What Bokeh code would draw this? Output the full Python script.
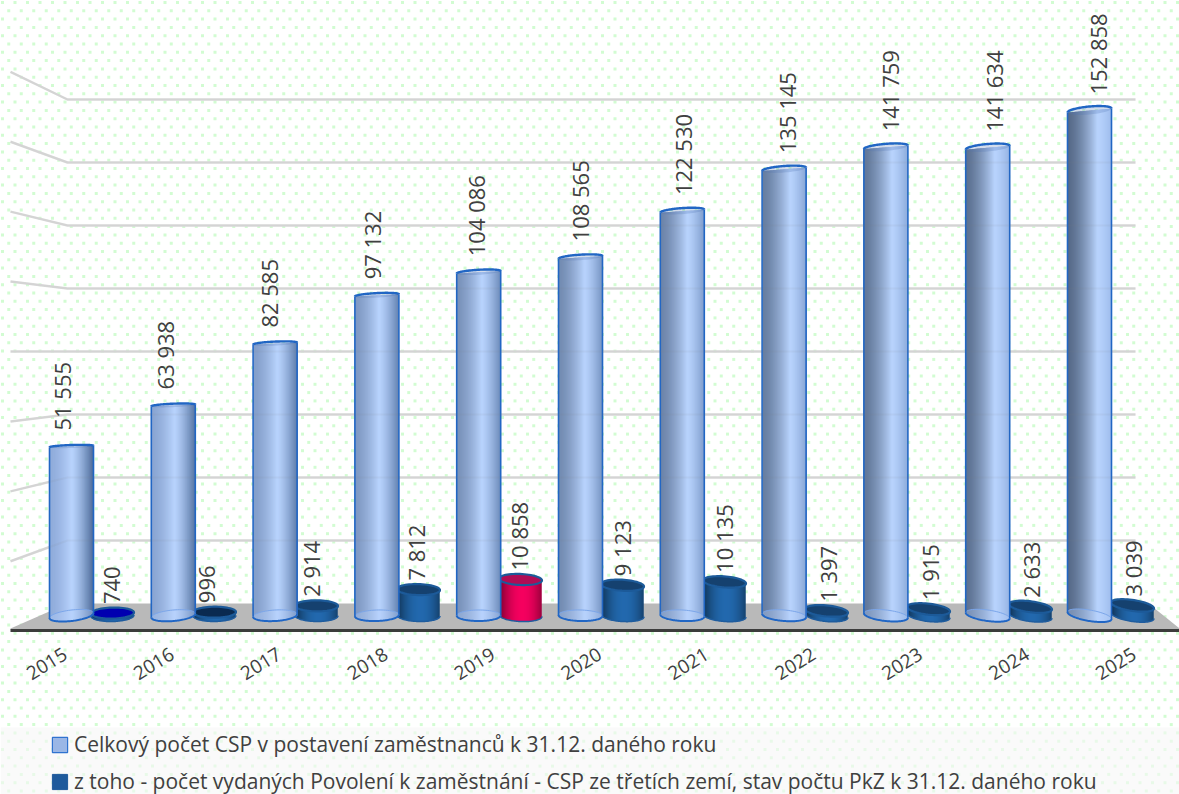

import numpy as np
from bokeh.plotting import figure
from bokeh.models import (ColumnDataSource, Range1d, LinearAxis, FixedTicker, Legend, LegendItem)
from bokeh.embed import file_html
from bokeh.resources import INLINE
from bokeh.core.properties import value

years = [2015, 2016, 2017, 2018, 2019, 2020, 2021, 2022, 2023, 2024, 2025]
total_csp = [51555, 63938, 82585, 97132, 104086, 108565, 122530, 135145, 141759, 141634, 152858]
permits = [740, 996, 2914, 7812, 10858, 9123, 10135, 1397, 1915, 2633, 3039]
grid_values = [20000, 40000, 60000, 80000, 100000, 120000, 140000, 160000]
series_names = ["Celkový počet CSP v postavení zaměstnanců k 31.12. daného roku",
                "z toho - počet vydaných Povolení k zaměstnání - CSP ze třetích zemí, stav počtu PkZ k 31.12. daného roku"]

W, H = 1179, 794
X0, DX = 71.0, 101.8          # page px of first column, px per year
Y0, SY = 617.0, 507.0 / 152858  # page px of zero, px per unit
def xd(px): return 2015 + (np.asarray(px, float) - X0) / DX
def yd(py): return (Y0 - np.asarray(py, float)) / SY

TXT = "#404040"
FONT = value("Open Sans")

p = figure(width=W, height=H, output_backend="svg", toolbar_location=None,
           x_range=Range1d(float(xd(0)), float(xd(W))), y_range=Range1d(float(yd(H)), float(yd(0))),
           x_axis_type=None, y_axis_type=None, min_border=0, outline_line_color=None,
           background_fill_color="#ffffff", border_fill_color="#ffffff")
p.grid.visible = False

# dotted backdrop
gx, gy = [], []
for r, yy in enumerate(np.arange(2, H, 8.3)):
    for xx in np.arange(2 + (r % 2) * 6.25, W, 12.5):
        gx.append(xx); gy.append(yy)
p.scatter(xd(gx), yd(gy), marker="square", size=3, fill_color="#d2fcd2", line_color=None)
p.quad(left=[float(xd(0))], right=[float(xd(W))], top=[float(yd(727))], bottom=[float(yd(H))],
       fill_color="#f6f6f6", fill_alpha=0.6, line_color=None)

# back wall gridlines with their side wall
def wall_y(v): return 603 - v * 63 / 20000
gl_x, gl_y = [], []
for v in grid_values:
    y = wall_y(v)
    gl_x.append(xd([10, 67, 1135]).tolist())
    gl_y.append(yd([351 + (y - 351) * 1.11, y, y]).tolist())
p.multi_line(gl_x, gl_y, line_color="#dcdcdc", line_width=2.5)

# floor
p.patch(xd([10, 67, 1148, 1179, 1179, 10]), yd([628, 603, 603, 628, 629, 629]), fill_color="#b9b9b9", line_color=None)
p.line(xd([10, 1179]), yd([630, 630]), line_color="#3c3c3c", line_width=3)

def lerp(a, b, t):
    return a + (b - a) * t
def hexc(c):
    return "#%02x%02x%02x" % tuple(int(round(max(0, min(255, v)))) for v in c)
def rgb(h):
    return np.array([int(h[i:i + 2], 16) for i in (1, 3, 5)], float)

def ell(cx, cy, a, b, tilt, t0=0.0, t1=2 * np.pi, n=60):
    """Page px ellipse; tilt = px that the right end is lower than the left end."""
    th = np.linspace(t0, t1, n)
    ex = cx + a * np.cos(th)
    ey = cy + b * np.sin(th) + tilt / 2 * np.cos(th)
    return ex, ey

def body(cx, a, top_py, bot_py, bbot, tilt_b, tilt_t, colors):
    """Overlapping strips, each one painted over the previous, so that no seams show."""
    n = len(colors)
    x0 = round(cx - a)
    L, R, T, B, C = [], [], [], [], []
    for k in range(n):
        um = (k + .5) / n * 2 - 1
        s = np.sqrt(max(0, 1 - um * um))
        L.append(float(xd(x0 + k))); R.append(float(xd(x0 + min(k + 2, n))))
        T.append(float(yd(top_py + tilt_t / 2 * um)))
        B.append(float(yd(bot_py + bbot * s + tilt_b / 2 * um)))
        C.append(colors[k])
    return L, R, T, B, C

# small cylinders
small_centres = [112 + 102 * i for i in range(len(years))]
small_top = ["#0000b0", "#0a2a50"] + ["#15416f"] * 2 + ["#b00c55"] + ["#15416f"] * 6
for i, v in enumerate(permits):
    cx, a = small_centres[i], 21.5
    top = Y0 - 2 - v * SY
    bot = Y0 - 2
    tilt = -1 + (i / 10) * 7
    pink = years[i] == 2019
    cols = []
    N = 43
    for k in range(N):
        t = (k + .5) / N
        f = 1 - 1.8 * (t - .55) ** 2
        base = rgb("#f5005f") if pink else rgb("#2269ae")
        cols.append(hexc(base * f))
    L, R, T, B, C = body(cx, a, top, bot, 6, tilt, tilt, cols)
    p.quad(left=L, right=R, top=T, bottom=B, fill_color=C, line_color=None)
    ex, ey = ell(cx, bot, a, 6, tilt, 0, np.pi)
    p.line(xd(ex), yd(ey), line_color="#1f5c9e", line_width=1.5)
    ex, ey = ell(cx, top, a, 5.5, tilt)
    p.patch(xd(ex), yd(ey), fill_color=small_top[i], line_color="#1c5a99", line_width=2.2)

# large cylinders
for i, v in enumerate(total_csp):
    w = i / 10
    cx, a = X0 + DX * i, 22.0
    top = Y0 - v * SY
    bot = Y0 - 2
    peak = lerp(0.5, 0.68, w)
    left_c = lerp(rgb("#8fabda"), rgb("#566a88"), w)
    right_c = lerp(rgb("#4c6a98"), rgb("#9ebcec"), w)
    lite = rgb("#b8d3fd")
    N = 44
    cols = []
    for k in range(N):
        t = (k + .5) / N
        if t < peak:
            q = t / peak
            c = left_c + (lite - left_c) * (q ** 1.5)
        else:
            q = (t - peak) / (1 - peak)
            c = lite + (right_c - lite) * (q ** 1.3)
        cols.append(hexc(c))
    tb = lerp(-5, 7, w)
    tt = lerp(-1.5, -4, w)
    bt = lerp(1.5, 4.0, w)
    L, R, T, B, C = body(cx, a, top, bot, 5.5, tb, tt, cols)
    p.quad(left=L, right=R, top=T, bottom=B, fill_color=C, line_color=None)
    # lighter foot of the column
    ex, ey = ell(cx, bot, a, 5.5, tb)
    p.patch(xd(ex), yd(ey), fill_color="#b7d0fb", fill_alpha=0.35, line_color="#7ba6ea", line_width=1)
    ex, ey = ell(cx, bot, a, 5.5, tb, 0, np.pi)
    p.line(xd(ex), yd(ey), line_color="#2166c4", line_width=2)
    # sides
    p.line(xd([cx - a, cx - a]), yd([top - tt / 2, bot - tb / 2]), line_color="#2166c4", line_width=1.6)
    p.line(xd([cx + a, cx + a]), yd([top + tt / 2, bot + tb / 2]), line_color="#2166c4", line_width=1.6)
    # lid
    ex, ey = ell(cx, top, a, bt, tt)
    p.patch(xd(ex), yd(ey), fill_color="#4f74b4", fill_alpha=0.25, line_color=None)
    ex, ey = ell(cx, top, a, bt, tt, np.pi, 2 * np.pi)
    p.line(xd(ex), yd(ey), line_color="#2166c4", line_width=2.4)

# gridlines faintly showing through the translucent columns
p.multi_line(gl_x, gl_y, line_color="#808080", line_width=2, line_alpha=0.08)

# value labels
def fmt(v):
    return f"{v:,}".replace(",", " ")
small_nudge = [0, -7, -5, -2, -1, 0, 0, 2, 2, 1, 1]
big = ColumnDataSource(dict(
    x=[float(xd(X0 + DX * i - 10 + 1.8 * i)) for i in range(len(years))],
    y=[float(yd(Y0 - v * SY - 16)) for v in total_csp],
    t=[fmt(v) for v in total_csp]))
small = ColumnDataSource(dict(
    x=[float(xd(c - 1 + n)) for c, n in zip(small_centres, small_nudge)],
    y=[float(yd(Y0 - max(v * SY, 2) - 11)) for v in permits],
    t=[fmt(v) for v in permits]))
for s in (big, small):
    p.text("x", "y", text="t", source=s, angle=np.pi / 2, text_align="left", text_baseline="middle",
           text_font=FONT, text_font_size="22px", text_color=TXT)

# category axis
LX0, LDX = 65.0, 106.9
p.extra_x_ranges["cat"] = Range1d(2015 - LX0 / LDX, 2015 + (W - LX0) / LDX)
ax = LinearAxis(x_range_name="cat", ticker=FixedTicker(ticks=years),
                major_label_overrides={y: str(y) for y in years},
                fixed_location=float(yd(646)), major_label_orientation=0.55,
                major_label_text_font="Open Sans", major_label_text_font_size="19px",
                major_label_text_color=TXT, axis_line_color=None,
                major_tick_line_color=None, minor_tick_line_color=None, major_label_standoff=0)
p.add_layout(ax, "below")

# legend (keys only; their boxes lie outside the visible range)
off_l, off_r = [float(xd(-520))], [float(xd(-500))]
off_b, off_t = [float(yd(-500))], [float(yd(-520))]
r1 = p.quad(left=off_l, right=off_r, bottom=off_b, top=off_t, fill_color="#9ab7e6", line_color="#2f73d0", line_width=1.2)
r2 = p.quad(left=off_l, right=off_r, bottom=off_b, top=off_t, fill_color="#1f5a9c", line_color="#1f5a9c")
lg = Legend(items=[LegendItem(label=value(series_names[0]), renderers=[r1]),
                   LegendItem(label=value(series_names[1]), renderers=[r2])],
            location=(50, -1), orientation="vertical", background_fill_alpha=0, border_line_color=None,
            label_text_font="Open Sans", label_text_font_size="21px", label_text_color=TXT,
            glyph_width=19, glyph_height=19, label_standoff=5, spacing=9, padding=0, margin=0)
p.add_layout(lg, "center")

open("out.html", "w").write(file_html(p, INLINE))
